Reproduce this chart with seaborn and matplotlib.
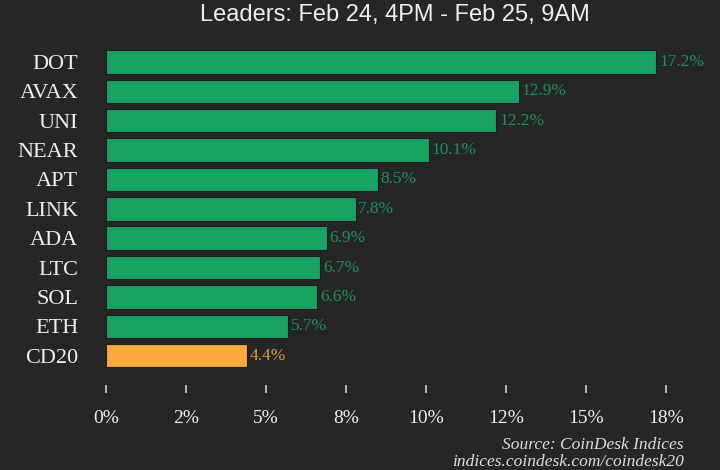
import matplotlib
matplotlib.use("Agg")
import matplotlib.pyplot as plt
import seaborn as sns
import pandas as pd

assets = ["DOT", "AVAX", "UNI", "NEAR", "APT", "LINK", "ADA", "LTC", "SOL", "ETH", "CD20"]
changes = [17.2, 12.9, 12.2, 10.1, 8.5, 7.8, 6.9, 6.7, 6.6, 5.7, 4.4]
tick_values = [0, 2.5, 5, 7.5, 10, 12.5, 15, 17.5]
tick_labels = ["0%", "2%", "5%", "8%", "10%", "12%", "15%", "18%"]
title = "Leaders: Feb 24, 4PM - Feb 25, 9AM"
source_lines = ["Source: CoinDesk Indices", "indices.coindesk.com/coindesk20"]

BG = "#262626"
GREEN = "#17a362"
ORANGE = "#f9a93e"
GREEN_TXT = "#1a9058"
ORANGE_TXT = "#d99e3c"

sns.set_theme(style="dark")
plt.rcParams["font.family"] = ["Liberation Serif", "DejaVu Serif"]

df = pd.DataFrame({"asset": assets, "change": changes})
df["kind"] = ["index" if a == "CD20" else "coin" for a in assets]

fig = plt.figure(figsize=(7.2, 4.7), dpi=100, facecolor=BG)
ax = fig.add_axes([106 / 720, 1 - 385 / 470, 560 / 720, (385 - 47.3) / 470])
ax.set_facecolor(BG)

sns.barplot(data=df, x="change", y="asset", hue="kind",
            palette={"coin": GREEN, "index": ORANGE}, dodge=False,
            width=0.8, legend=False, ax=ax, saturation=1,
            edgecolor="#1c1c1c", linewidth=0.8)

ax.set_xlim(0, 17.5)
ax.set_ylim(11.0, -0.5)
for s in ax.spines.values():
    s.set_visible(False)
ax.grid(False)
ax.set_xlabel("")
ax.set_ylabel("")

ax.set_xticks(tick_values)
ax.set_xticklabels(tick_labels)
ax.tick_params(axis="x", which="both", bottom=True, length=6, width=1.2,
               color="#cccccc", direction="out", pad=12, labelsize=14,
               labelcolor="#eeeeee")
ax.tick_params(axis="y", left=False, pad=14, labelsize=16, labelcolor="#eeeeee")

for i, (a, v) in enumerate(zip(assets, changes)):
    col = ORANGE_TXT if a == "CD20" else GREEN_TXT
    ax.text(v + 0.08, i, f"{v}%", va="center", ha="left", fontsize=12.5, color=col)

fig.text(395 / 720, 1 - 15 / 470, title, ha="center", va="center",
         fontsize=17, color="#eeeeee", family=["Liberation Sans", "DejaVu Sans"])
fig.text(684 / 720, 1 - 445 / 470, source_lines[0], ha="right", va="center",
         fontsize=12.5, color="#dddddd", style="italic")
fig.text(684 / 720, 1 - 462 / 470, source_lines[1], ha="right", va="center",
         fontsize=12.5, color="#dddddd", style="italic")

fig.savefig("out.png", dpi=100, facecolor=BG)
